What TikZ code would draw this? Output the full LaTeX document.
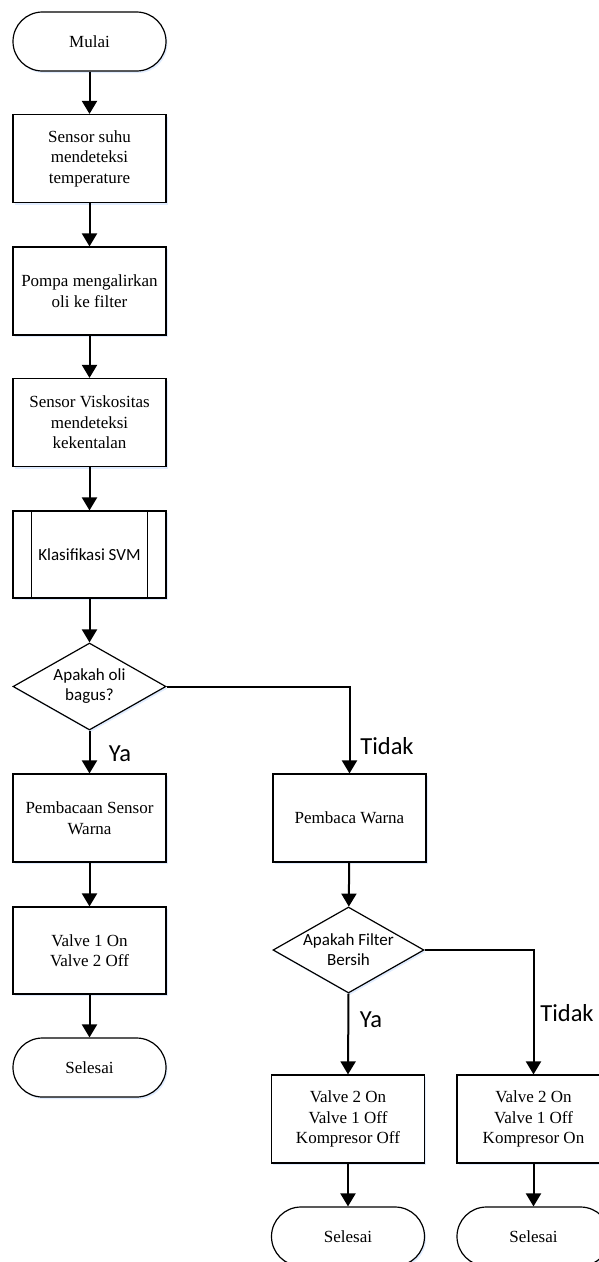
\documentclass[tikz,border=0pt]{standalone}
\usepackage{fontspec}
\setmainfont{Liberation Serif}
\newfontfamily\calfont{Carlito}
\usetikzlibrary{shapes.geometric,arrows.meta,shadows}
\begin{document}
\begin{tikzpicture}[x=1pt,y=-1pt,
  shad/.style={drop shadow={shadow xshift=1.5pt,shadow yshift=-2pt,fill=blue!60!cyan,opacity=0.12}},
  boxn/.style={draw,line width=1.2pt,fill=white,shad,minimum width=153pt,minimum height=88pt,
    inner sep=2pt,align=center,font=\fontsize{17}{20.5}\selectfont},
  term/.style={boxn,rounded corners=29.5pt,minimum height=59pt},
  subr/.style={boxn,font=\calfont\fontsize{17}{20.5}\selectfont},
  dec/.style={draw,line width=1.2pt,fill=white,shad,diamond,aspect=1.76,minimum width=153pt,minimum height=87pt,
    inner sep=0pt,align=center,font=\calfont\fontsize{17}{20}\selectfont},
  lbl/.style={font=\calfont\fontsize{24.5}{27}\selectfont,inner sep=0pt},
  arr/.style={line width=2pt,-{Triangle[width=15pt,length=13pt]}},
]
\useasboundingbox (0,0) rectangle (599,1262);
\clip (0,0) rectangle (599,1262);

\node[term] (start) at (89.5,41.5) {Mulai};
\node[boxn] (b1) at (89.5,158.5) {Sensor suhu\\mendeteksi\\temperature};
\node[boxn] (b2) at (89.5,291) {Pompa mengalirkan\\oli ke filter};
\node[boxn] (b3) at (89.5,422.5) {Sensor Viskositas\\mendeteksi\\kekentalan};
\node[subr,minimum height=87pt] (svm) at (89.5,554.5) {Klasifikasi SVM};
\draw[line width=1.2pt] ([xshift=19pt]svm.north west) -- ([xshift=19pt]svm.south west);
\draw[line width=1.2pt] ([xshift=-19pt]svm.north east) -- ([xshift=-19pt]svm.south east);
\node[dec] (d1) at (89.5,686.5) {Apakah oli\\bagus?};
\node[boxn] (b4) at (89.5,818) {Pembacaan Sensor\\Warna};
\node[boxn] (r1) at (349.5,818) {Pembaca Warna};
\node[boxn,minimum height=87pt] (b5) at (89.5,950.5) {Valve 1 On\\Valve 2 Off};
\node[term] (e1) at (89.5,1067.5) {Selesai};
\node[dec,minimum width=151pt,minimum height=86pt] (d2) at (348.5,950) {Apakah Filter\\Bersih};
\node[boxn] (r2) at (348,1119) {Valve 2 On\\Valve 1 Off\\Kompresor Off};
\node[boxn] (r3) at (533.5,1119) {Valve 2 On\\Valve 1 Off\\Kompresor On};
\node[term] (e2) at (348,1236.5) {Selesai};
\node[term] (e3) at (533.5,1236.5) {Selesai};

\draw[arr] (start) -- (b1);
\draw[arr] (b1) -- (b2);
\draw[arr] (b2) -- (b3);
\draw[arr] (b3) -- (svm);
\draw[arr] (svm) -- (d1);
\draw[arr] (d1) -- (b4);
\draw[arr] (d1.east) -| (r1.north);
\draw[arr] (b4) -- (b5);
\draw[arr] (b5) -- (e1);
\draw[arr] (r1) -- (d2);
\draw[arr] (d2.south) -- (r2.north);
\draw[arr] (d2.east) -| (r3.north);
\draw[arr] (r2) -- (e2);
\draw[arr] (r3) -- (e3);

\node[lbl] (ya1) at (120,754) {Ya};
\node[lbl] (t1) at (387,746) {Tidak};
\node[lbl] (ya2) at (371,1020) {Ya};
\node[lbl] (t2) at (567,1013) {Tidak};
\end{tikzpicture}
\end{document}
